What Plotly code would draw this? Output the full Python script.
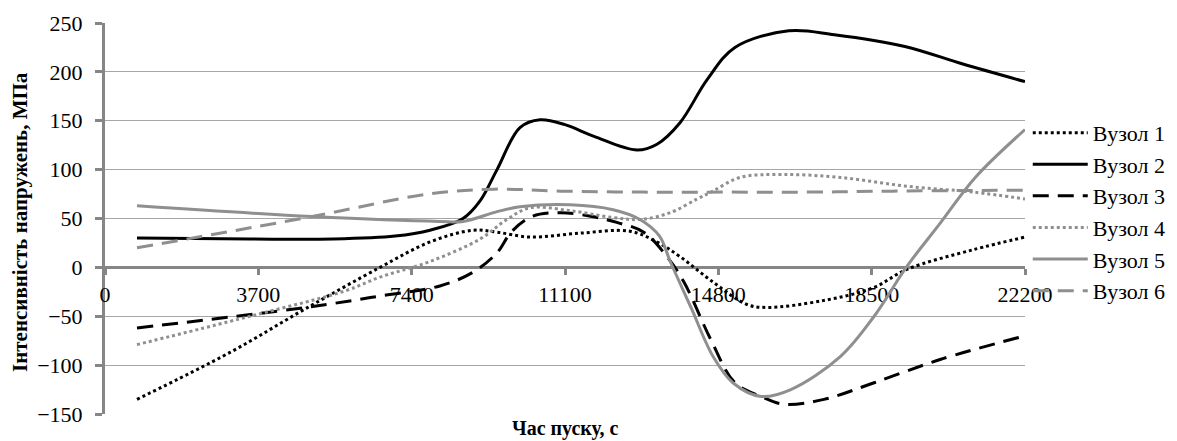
import plotly.graph_objects as go

# ---- data ----
x_ticks = [0, 3700, 7400, 11100, 14800, 18500, 22200]
y_ticks = [-150, -100, -50, 0, 50, 100, 150, 200, 250]

names = ["Вузол 1", "Вузол 2", "Вузол 3", "Вузол 4", "Вузол 5", "Вузол 6"]

s1_t = [772, 3016, 4850, 6636, 7843, 8880, 9460, 10255, 11462, 12668, 13320, 13875, 14671, 15492, 15974, 17325, 18532, 19352, 20945, 22200]
s1_v = [-135, -87, -42, 0, 26, 38, 36, 31, 35, 37, 26, 11, -15, -38, -41, -34, -21, -2, 18, 31]

s2_t = [772, 3500, 5500, 7000, 7843, 8640, 9050, 9460, 10013, 10500, 11100, 11800, 12840, 13320, 13875, 14530, 15200, 16500, 17600, 19300, 20700, 22200]
s2_v = [30, 29, 29, 32, 38, 50, 68, 100, 143, 151, 146, 134, 120, 126, 148, 192, 225, 242, 238, 226, 208, 190]

s3_t = [772, 4850, 6680, 8080, 8880, 9460, 9800, 10300, 11000, 11750, 12350, 13000, 13560, 13970, 14620, 15200, 15830, 16380, 17350, 18560, 20170, 22200]
s3_v = [-62, -41, -29, -19, -5, 15, 36, 52, 56, 52, 46, 36, 11, -15, -74, -118, -132, -140, -135, -118, -94, -70]

s4_t = [772, 3500, 5800, 6636, 7843, 9050, 9700, 10255, 11220, 12260, 12910, 13640, 14290, 14670, 15320, 16360, 17740, 19350, 20950, 22200]
s4_v = [-79, -50, -24, -10, 6, 29, 49, 61, 58, 51, 49, 56, 70, 78, 92, 95, 92, 83, 77, 70]

s5_t = [772, 5000, 8084, 8640, 9460, 10013, 11220, 12260, 12910, 13380, 13640, 14140, 14670, 15150, 15830, 16550, 17750, 18560, 19350, 20150, 21000, 22200]
s5_v = [63, 52, 47, 47, 57, 62, 64, 59, 49, 32, 6, -41, -91, -118, -132, -125, -91, -50, 1, 45, 92, 141]

s6_t = [772, 5000, 7800, 9400, 11000, 13000, 15000, 17000, 19000, 22200]
s6_v = [20, 52, 75, 80, 78, 77, 77, 77, 78, 79]

series_t = [s1_t, s2_t, s3_t, s4_t, s5_t, s6_t]
series_v = [s1_v, s2_v, s3_v, s4_v, s5_v, s6_v]

# ---- styles ----
BLACK = "#000000"
GREY = "#8f8f8f"
styles = [
    dict(color=BLACK, dash="dot"),
    dict(color=BLACK, dash="solid"),
    dict(color=BLACK, dash="16px,9px"),
    dict(color=GREY, dash="dot"),
    dict(color=GREY, dash="solid"),
    dict(color=GREY, dash="16px,9px"),
]

FONT = "Liberation Serif, Times New Roman, serif"

fig = go.Figure()
for name, t, v, st in zip(names, series_t, series_v, styles):
    fig.add_trace(go.Scatter(
        x=t, y=v, name=name, mode="lines",
        line=dict(color=st["color"], dash=st["dash"], width=3, shape="spline", smoothing=1.0),
    ))

fig.update_layout(
    width=1177, height=441,
    margin=dict(l=105, r=152, t=23, b=27, autoexpand=False),
    paper_bgcolor="white", plot_bgcolor="white",
    font=dict(family=FONT, size=21, color="#000000"),
    showlegend=True,
    legend=dict(
        x=1.003, xanchor="left", y=0.517, yanchor="middle",
        font=dict(family=FONT, size=22, color="#000000"),
        itemwidth=55, bgcolor="rgba(0,0,0,0)",
        tracegroupgap=0,
    ),
    xaxis=dict(
        range=[0, 22200], tickvals=x_ticks, ticktext=[str(v) for v in x_ticks],
        anchor="free", position=0.375,
        showgrid=False, zeroline=False,
        showline=True, linecolor="#868686", linewidth=3,
        ticks="outside", ticklen=6, tickwidth=3, tickcolor="#868686",
        tickfont=dict(family=FONT, size=22, color="#000000"),
        layer="below traces",
    ),
    yaxis=dict(
        range=[-150, 250], tickvals=y_ticks,
        showgrid=True, gridcolor="#a6a6a6", gridwidth=1,
        zeroline=False,
        showline=True, linecolor="#868686", linewidth=3,
        ticks="outside", ticklen=7, tickwidth=3, tickcolor="#868686",
        ticklabelstandoff=8,
        tickfont=dict(family=FONT, size=22, color="#000000"),
        layer="below traces",
    ),
    annotations=[
        dict(text="<b>Інтенсивність напружень, МПа</b>", xref="paper", yref="paper",
             x=-0.0924, y=0.491, xanchor="center", yanchor="middle", textangle=-90,
             showarrow=False, font=dict(family=FONT, size=21, color="#000000")),
        dict(text="<b>Час пуску, с</b>", xref="paper", yref="paper",
             x=0.5, y=-0.036, xanchor="center", yanchor="middle",
             showarrow=False, font=dict(family=FONT, size=20, color="#000000")),
    ],
)

fig.write_html("out.html")
